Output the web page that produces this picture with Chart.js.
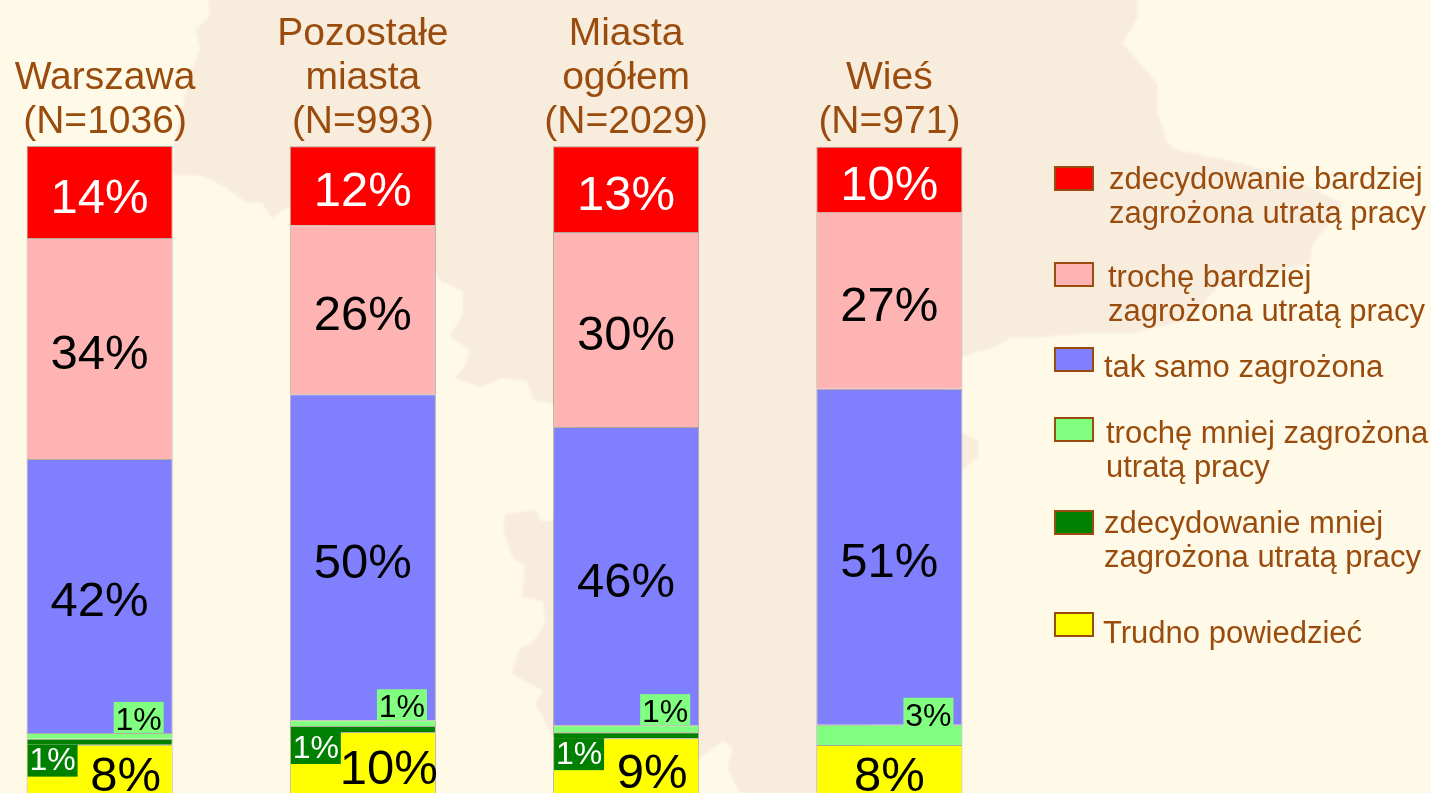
<!DOCTYPE html>
<html lang="pl">
<head>
<meta charset="utf-8">
<title>Zagrożenie utratą pracy</title>
<script src="https://cdn.jsdelivr.net/npm/chart.js@4"></script>
<style>
  html, body { margin: 0; padding: 0; width: 1431px; height: 793px; overflow: hidden; background: #FFFAE8; }
  #map { position: absolute; left: 0; top: 0; width: 1431px; height: 793px; filter: blur(0.8px); }
  #chart { position: absolute; left: -32px; top: 0; }
</style>
</head>
<body>
<svg id="map" viewBox="0 0 1431 793" aria-hidden="true">
  <polygon fill="#F8ECDD" points="208,0 1137,0 1138,17 1123,43 1157,83 1157,110 1167,143 1177,150 1227,160 1293,177 1320,193 1343,203 1327,227 1313,243 1310,263 1260,277 1217,287 1190,320 1133,333 1093,333 1043,337 1010,338 993,348 961,357 945,395 961,433 978,440 978,457 962,470 940,600 880,700 840,793 740,793 727,769 733,749 723,741 698,759 640,750 553,737 535,703 543,691 512,674 518,650 533,642 545,623 543,601 522,597 525,565 513,559 503,529 505,514 537,510 540,521 553,521 600,450 553,404 533,400 527,381 503,378 480,387 455,378 465,366 470,351 450,336 463,313 463,291 440,281 435,272 380,250 287,207 272,218 262,203 245,202 225,187 202,176 172,175 175,140 190,75 200,50 195,30 210,15"/>
</svg>
<canvas id="chart" width="1463" height="793"></canvas>
<script>
// Column headings (category axis tick labels)
const categories = [
  [" Warszawa", " (N=1036)"],
  ["Pozostałe", "miasta", "(N=993)"],
  ["Miasta", "ogółem", "(N=2029)"],
  ["Wieś", "(N=971)"]
];

// Segment sizes, in percent
const zdecBardziej = [14.15, 12.15, 13.2, 10.15];
const trocheBardziej = [34.0, 26.0, 30.0, 27.1];
const takSamo = [42.15, 50.15, 45.85, 51.7];
const trocheMniej = [0.9, 0.9, 1.1, 3.1];
const zdecMniej = [0.9, 0.9, 0.9, 0];
const trudno = [7.9, 9.85, 8.9, 7.85];

// Percent labels as printed on the chart
const zdecBardziejLabels = [14, 12, 13, 10];
const trocheBardziejLabels = [34, 26, 30, 27];
const takSamoLabels = [42, 50, 46, 51];
const trocheMniejLabels = [1, 1, 1, 3];
const zdecMniejLabels = [1, 1, 1, null];
const trudnoLabels = [8, 10, 9, 8];

// Series names (one array of lines per legend entry), listed top to bottom
const seriesNames = [
  ["zdecydowanie bardziej", "zagrożona utratą pracy"],
  ["trochę bardziej", "zagrożona utratą pracy"],
  ["tak samo zagrożona"],
  ["trochę mniej zagrożona", "utratą pracy"],
  ["zdecydowanie mniej", "zagrożona utratą pracy"],
  ["Trudno powiedzieć"]
];
const seriesColors = ["#FF0000", "#FFB4B4", "#8080FF", "#80FF80", "#008000", "#FFFF00"];
const seriesValues = [zdecBardziej, trocheBardziej, takSamo, trocheMniej, zdecMniej, trudno];
const seriesLabels = [zdecBardziejLabels, trocheBardziejLabels, takSamoLabels, trocheMniejLabels, zdecMniejLabels, trudnoLabels];

const FONT = '"Liberation Sans", Arial, sans-serif';
const BROWN = "#994C0D";
const LAST = seriesNames.length - 1;

// Datasets stack from the bottom, so they are handed over in reverse order
const metaOf = (chart, i) => chart.getDatasetMeta(LAST - i);

const valueLabels = {
  id: "valueLabels",
  afterDatasetsDraw(chart) {
    const ctx = chart.ctx;
    ctx.save();
    ctx.textAlign = "center";
    ctx.textBaseline = "middle";
    // large labels
    [0, 1, 2, 5].forEach(i => {
      metaOf(chart, i).data.forEach((bar, j) => {
        const shift = (i === 5 && zdecMniejLabels[j] !== null) ? 26 : 0;
        ctx.font = "49px " + FONT;
        ctx.fillStyle = i === 0 ? "#FFFFFF" : "#000000";
        ctx.fillText(seriesLabels[i][j] + "%", bar.x + shift, (bar.y + bar.base) / 2 + 7);
      });
    });
    // small boxed labels
    ctx.font = "32px " + FONT;
    metaOf(chart, 3).data.forEach((bar, j) => {
      const left = bar.x + bar.width / 2 - 59;
      const top = bar.y - 31 + (trocheMniej[j] > 2 ? 4 : 0);
      ctx.fillStyle = seriesColors[3];
      ctx.fillRect(left, top, 50, 31);
      ctx.fillStyle = "#000000";
      ctx.fillText(trocheMniejLabels[j] + "%", left + 25, top + 19);
    });
    metaOf(chart, 4).data.forEach((bar, j) => {
      if (zdecMniejLabels[j] === null) return;
      const left = bar.x - bar.width / 2 + 1;
      const top = bar.base;
      ctx.fillStyle = seriesColors[4];
      ctx.fillRect(left, top, 50, 32);
      ctx.fillStyle = "#FFFFFF";
      ctx.fillText(zdecMniejLabels[j] + "%", left + 25, top + 17);
    });
    ctx.restore();
  }
};

const sideLegend = {
  id: "sideLegend",
  afterDraw(chart) {
    const ctx = chart.ctx;
    const offset = 32; // canvas sits 32px left of the page edge
    const swatchTops = [166, 262, 347, 417, 510, 612];
    const textLefts = [1109, 1108, 1104, 1106, 1104, 1103];
    const textTops = [180, 278, 368, 434, 524, 634];
    ctx.save();
    seriesNames.forEach((lines, i) => {
      ctx.fillStyle = seriesColors[i];
      ctx.fillRect(1055 + offset, swatchTops[i] + 1, 38, 23);
      ctx.strokeStyle = BROWN;
      ctx.lineWidth = 2;
      ctx.strokeRect(1055 + offset, swatchTops[i] + 1, 38, 23);
      ctx.fillStyle = BROWN;
      ctx.font = "31px " + FONT;
      ctx.textAlign = "left";
      ctx.textBaseline = "middle";
      lines.forEach((line, k) => {
        ctx.fillText(line, textLefts[i] + offset, textTops[i] + k * 34.5);
      });
    });
    ctx.restore();
  }
};

new Chart(document.getElementById("chart"), {
  type: "bar",
  data: {
    labels: categories,
    datasets: seriesValues.map((values, i) => ({
      label: seriesNames[i].join(" "),
      data: values,
      backgroundColor: seriesColors[i],
      borderColor: "rgba(0,0,0,0.3)",
      borderWidth: 1,
      barPercentage: 0.555,
      categoryPercentage: 1
    })).reverse()
  },
  options: {
    responsive: false,
    animation: false,
    layout: { padding: { left: 0, right: 410, top: 0, bottom: 0 } },
    plugins: { legend: { display: false }, tooltip: { enabled: false } },
    scales: {
      x: {
        stacked: true,
        position: "top",
        grid: { display: false, drawTicks: false },
        border: { display: false },
        afterFit(scale) { scale.height = 146; },
        ticks: {
          autoSkip: false,
          maxRotation: 0,
          minRotation: 0,
          padding: 2,
          color: BROWN,
          font: { family: FONT, size: 39, lineHeight: 1.128 }
        }
      },
      y: {
        stacked: true,
        display: false,
        min: 0.46,
        max: 100
      }
    }
  },
  plugins: [valueLabels, sideLegend]
});
</script>
</body>
</html>
